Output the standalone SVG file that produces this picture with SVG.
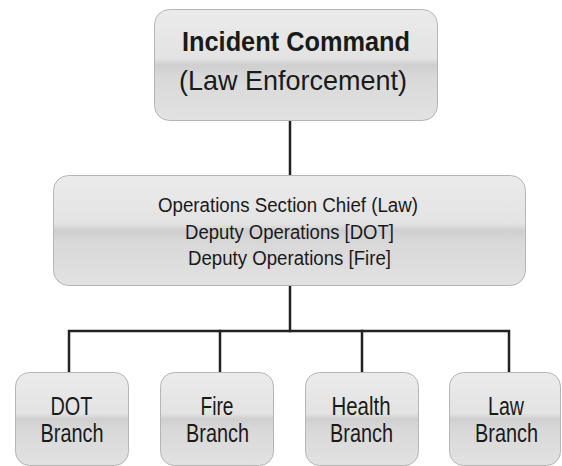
<svg xmlns="http://www.w3.org/2000/svg" width="562" height="466" viewBox="0 0 562 466">
<defs>
<linearGradient id="g" x1="0" y1="0" x2="0" y2="1">
<stop offset="0" stop-color="#ebebeb"/>
<stop offset="0.44" stop-color="#e3e3e3"/>
<stop offset="0.5" stop-color="#cfcfcf"/>
<stop offset="0.6" stop-color="#d8d8d8"/>
<stop offset="1" stop-color="#e2e2e2"/>
</linearGradient>
</defs>
<style>
.box{fill:url(#g);stroke:#b5b5b5;stroke-width:1}
.t{font-family:"Liberation Sans",Arial,sans-serif;fill:#1a1a1a;text-anchor:middle}
.b{font-weight:bold}
.c{fill:none;stroke:#222;stroke-width:2.5;stroke-linecap:square}
</style>
<rect width="562" height="466" fill="#fff"/>
<g id="connectors">
<path class="c" d="M290,121 V174"/>
<path class="c" d="M290,286 V331"/>
<path class="c" d="M69,371 V331 H509 V371"/>
<path class="c" d="M220,331 V371"/>
<path class="c" d="M362,331 V371"/>
</g>
<g id="incident-command">
<rect class="box" x="154.5" y="9.5" width="283" height="111" rx="15"/>
<text class="t b" x="296" y="51" font-size="28" textLength="228" lengthAdjust="spacingAndGlyphs">Incident Command</text>
<text class="t" x="293" y="90" font-size="28" textLength="228" lengthAdjust="spacingAndGlyphs">(Law Enforcement)</text>
</g>
<g id="operations">
<rect class="box" x="53.5" y="175.5" width="472" height="110" rx="15"/>
<text class="t" x="288" y="212" font-size="20" textLength="260" lengthAdjust="spacingAndGlyphs">Operations Section Chief (Law)</text>
<text class="t" x="289.5" y="238.5" font-size="20" textLength="209" lengthAdjust="spacingAndGlyphs">Deputy Operations [DOT]</text>
<text class="t" x="289.5" y="265" font-size="20" textLength="203" lengthAdjust="spacingAndGlyphs">Deputy Operations [Fire]</text>
</g>
<g id="dot-branch">
<rect class="box" x="15.5" y="372.5" width="113" height="93" rx="14"/>
<text class="t" x="71.5" y="415" font-size="25" textLength="42" lengthAdjust="spacingAndGlyphs">DOT</text>
<text class="t" x="72" y="442" font-size="25" textLength="63" lengthAdjust="spacingAndGlyphs">Branch</text>
</g>
<g id="fire-branch">
<rect class="box" x="160.5" y="372.5" width="113" height="93" rx="14"/>
<text class="t" x="217" y="415" font-size="25" textLength="33" lengthAdjust="spacingAndGlyphs">Fire</text>
<text class="t" x="217.5" y="442" font-size="25" textLength="63" lengthAdjust="spacingAndGlyphs">Branch</text>
</g>
<g id="health-branch">
<rect class="box" x="305.5" y="372.5" width="113" height="93" rx="14"/>
<text class="t" x="361" y="415" font-size="25" textLength="59" lengthAdjust="spacingAndGlyphs">Health</text>
<text class="t" x="361.5" y="442" font-size="25" textLength="63" lengthAdjust="spacingAndGlyphs">Branch</text>
</g>
<g id="law-branch">
<rect class="box" x="449.5" y="372.5" width="111" height="93" rx="14"/>
<text class="t" x="506" y="415" font-size="25" textLength="36" lengthAdjust="spacingAndGlyphs">Law</text>
<text class="t" x="506.5" y="442" font-size="25" textLength="63" lengthAdjust="spacingAndGlyphs">Branch</text>
</g>
</svg>
